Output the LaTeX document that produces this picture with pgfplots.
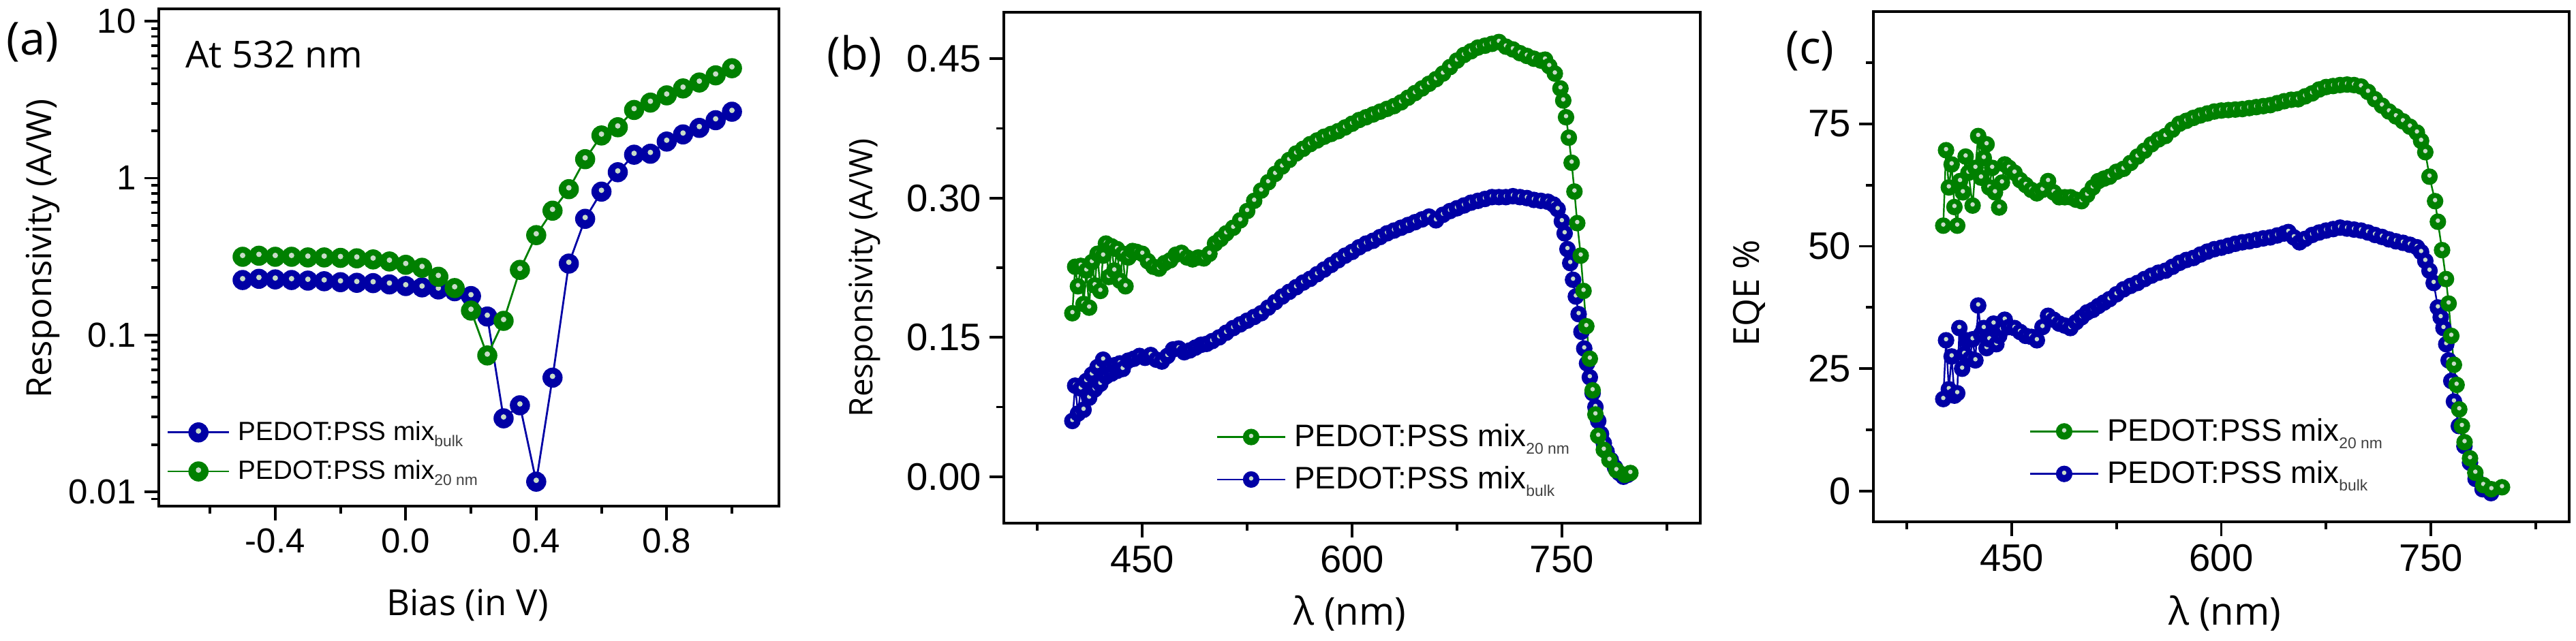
\documentclass[border=0pt]{standalone}
\usepackage{pgfplots}
\pgfplotsset{compat=1.18}
\usepackage{fontspec}
\setmainfont{Open Sans}
\newfontfamily\arial{Liberation Sans}
\definecolor{cblue}{RGB}{0,0,165}
\definecolor{cgreen}{RGB}{0,128,0}
\definecolor{hl}{RGB}{200,220,200}
\pgfdeclareplotmark{sun}{%
  \pgfpathcircle{\pgfpointorigin}{\pgfplotmarksize}%
  \pgfusepath{fill,stroke}%
  \begin{pgfscope}%
  \pgfsetfillcolor{hl}%
  \pgfpathcircle{\pgfpoint{0pt}{0.15\pgfplotmarksize}}{0.3\pgfplotmarksize}%
  \pgfusepath{fill}%
  \end{pgfscope}%
}
\newcommand{\sub}[1]{\raisebox{-0.45ex}{\fontsize{6.5}{7}\selectfont\color{darkgray}#1}}
\pgfplotsset{
  panel/.style={
    scale only axis, anchor=south west,
    axis line style={line width=1.1pt},
    tick align=outside, xtick pos=bottom, ytick pos=left,
    major tick length=2.1mm, minor tick length=1.1mm,
    every tick/.append style={line width=1.1pt, black},
    legend cell align=left,
  },
  lg/.style n args={3}{
    legend style={draw=none, fill=none, inner sep=0pt, outer sep=0pt,
      at={(axis description cs:#1,#2)}, anchor=west,
      font=\arial\fontsize{#3}{#3}\selectfont,
      nodes={inner sep=0pt}, row sep=2.4mm,
      /tikz/every odd column/.style={column sep=1.2mm}},
  },
}
\begin{document}
\begin{tikzpicture}
\path[use as bounding box] (0,0) rectangle (378mm,-94.1mm);
% ---------------- (a)
\begin{axis}[panel, at={(23.3mm,-74.3mm)}, width=91mm, height=73mm,
  ymode=log, xmin=-0.757, xmax=1.144, ymin=0.0081, ymax=12,
  xtick={-0.4,0,0.4,0.8}, xticklabels={-0.4,0.0,0.4,0.8},
  minor xtick={-0.6,-0.2,0.2,0.6,1.0},
  ytick={0.01,0.1,1,10}, yticklabels={0.01,0.1,1,10},
  minor ytick={0.009,0.02,0.03,0.04,0.05,0.06,0.07,0.08,0.09,0.2,0.3,0.4,0.5,0.6,0.7,0.8,0.9,2,3,4,5,6,7,8,9},
  ticklabel style={font=\arial\fontsize{14.5}{16}\selectfont},
  lg={0.013}{0.109}{11},
  legend image code/.code={\draw[mark repeat=2,mark phase=2] plot coordinates {(0mm,0mm) (4.5mm,0mm) (9mm,0mm)};},
]
\addplot[color=cblue, line width=0.8pt, mark=sun, mark size=3.8pt] table {
-0.50 0.224
-0.45 0.228
-0.40 0.226
-0.35 0.224
-0.30 0.222
-0.25 0.220
-0.20 0.217
-0.15 0.215
-0.10 0.214
-0.05 0.210
0.00 0.205
0.05 0.201
0.10 0.195
0.15 0.190
0.20 0.177
0.25 0.131
0.30 0.0294
0.35 0.0356
0.40 0.0116
0.45 0.0534
0.50 0.285
0.55 0.55
0.60 0.82
0.65 1.09
0.70 1.41
0.75 1.43
0.80 1.71
0.85 1.90
0.90 2.09
0.95 2.34
1.00 2.65
};
\addlegendentry{PEDOT:PSS mix\sub{bulk}}
\addplot[color=cgreen, line width=0.8pt, mark=sun, mark size=3.8pt] table {
-0.50 0.315
-0.45 0.320
-0.40 0.315
-0.35 0.315
-0.30 0.312
-0.25 0.312
-0.20 0.310
-0.15 0.308
-0.10 0.303
-0.05 0.294
0.00 0.280
0.05 0.268
0.10 0.235
0.15 0.199
0.20 0.143
0.25 0.074
0.30 0.123
0.35 0.26
0.40 0.433
0.45 0.62
0.50 0.85
0.55 1.32
0.60 1.87
0.65 2.11
0.70 2.72
0.75 3.03
0.80 3.37
0.85 3.73
0.90 4.07
0.95 4.52
1.00 5.02
};
\addlegendentry{PEDOT:PSS mix\sub{20 nm}}
\end{axis}
% ---------------- (b)
\begin{axis}[panel, reverse legend, at={(147.3mm,-76.8mm)}, width=102.2mm, height=75mm,
  xmin=351, xmax=849, ymin=-0.05, ymax=0.5,
  xtick={450,600,750}, xticklabels={450,600,750}, minor xtick={375,525,675,825},
  ytick={0,0.15,0.3,0.45}, yticklabels={0.00,0.15,0.30,0.45}, minor ytick={0.075,0.225,0.375},
  ticklabel style={font=\arial\fontsize{16}{18}\selectfont},
  lg={0.305}{0.127}{13},
  legend image code/.code={\draw[mark repeat=2,mark phase=2] plot coordinates {(0mm,0mm) (5mm,0mm) (10mm,0mm)};},
]
\addplot[color=cblue, line width=0.7pt, mark=sun, mark size=3.1pt] table {
400 0.060
402 0.098
404 0.068
406 0.095
408 0.072
410 0.103
412 0.085
414 0.110
416 0.094
418 0.118
420 0.100
422 0.126
424 0.108
426 0.118
428 0.111
430 0.120
432 0.114
434 0.122
436 0.116
440 0.125
444 0.127
448 0.130
452 0.128
456 0.131
460 0.126
464 0.124
468 0.130
472 0.137
476 0.138
480 0.134
484 0.136
488 0.139
492 0.142
496 0.143
500 0.146
505 0.150
510 0.155
515 0.160
520 0.164
525 0.168
530 0.172
535 0.176
540 0.182
545 0.188
550 0.194
555 0.199
560 0.204
565 0.209
570 0.213
575 0.218
580 0.223
585 0.228
590 0.233
595 0.238
600 0.242
605 0.247
610 0.251
615 0.254
620 0.258
625 0.262
630 0.265
635 0.268
640 0.271
645 0.274
650 0.277
655 0.280
660 0.276
665 0.282
670 0.286
675 0.289
680 0.292
685 0.295
690 0.297
695 0.299
700 0.301
705 0.301
710 0.301
715 0.302
720 0.301
725 0.300
730 0.298
735 0.297
740 0.296
744 0.293
747 0.288
750 0.275
752 0.262
754 0.245
756 0.230
758 0.212
760 0.194
762 0.175
764 0.156
766 0.138
768 0.122
770 0.107
772 0.090
774 0.075
776 0.060
778 0.046
780 0.036
782 0.027
785 0.018
788 0.010
791 0.004
794 0.000
797 0.002
};
\addlegendentry{PEDOT:PSS mix\sub{bulk}}
\addplot[color=cgreen, line width=0.7pt, mark=sun, mark size=3.1pt] table {
400 0.176
402 0.226
404 0.205
406 0.227
408 0.186
410 0.222
412 0.182
414 0.231
416 0.206
418 0.240
420 0.200
422 0.238
424 0.251
426 0.215
428 0.248
430 0.222
432 0.245
434 0.211
436 0.240
438 0.205
440 0.236
443 0.243
446 0.242
450 0.240
454 0.232
458 0.226
462 0.224
466 0.230
470 0.233
474 0.239
478 0.241
482 0.236
486 0.234
490 0.236
494 0.235
498 0.240
502 0.251
506 0.256
510 0.262
515 0.268
520 0.276
525 0.286
530 0.297
535 0.308
540 0.317
545 0.326
550 0.334
555 0.341
560 0.348
565 0.353
570 0.358
575 0.362
580 0.366
585 0.369
590 0.372
595 0.376
600 0.380
605 0.384
610 0.387
615 0.390
620 0.393
625 0.396
630 0.399
635 0.403
640 0.408
645 0.413
650 0.418
655 0.423
660 0.428
665 0.434
670 0.441
675 0.448
680 0.454
685 0.458
690 0.462
695 0.464
700 0.466
705 0.468
710 0.463
715 0.460
720 0.456
725 0.453
730 0.450
735 0.448
738 0.449
741 0.442
745 0.434
749 0.418
751 0.405
753 0.387
755 0.365
757 0.338
759 0.307
761 0.273
763.5 0.238
765.5 0.200
767.5 0.162
770 0.127
772 0.093
774 0.067
776 0.044
780 0.029
784 0.018
789 0.007
795 0.002
799 0.004
};
\addlegendentry{PEDOT:PSS mix\sub{20 nm}}
\end{axis}
% ---------------- (c)
\begin{axis}[panel, reverse legend, at={(274.9mm,-76.6mm)}, width=102.1mm, height=74.9mm,
  xmin=351, xmax=849, ymin=-6.25, ymax=97.9,
  xtick={450,600,750}, xticklabels={450,600,750}, minor xtick={375,525,675,825},
  ytick={0,25,50,75}, yticklabels={0,25,50,75}, minor ytick={12.5,37.5,62.5,87.5},
  ticklabel style={font=\arial\fontsize{16}{18}\selectfont},
  lg={0.224}{0.1355}{13},
  legend image code/.code={\draw[mark repeat=2,mark phase=2] plot coordinates {(0mm,0mm) (5mm,0mm) (10mm,0mm)};},
]
\addplot[color=cblue, line width=0.7pt, mark=sun, mark size=3.1pt] table {
401 18.8
403 30.8
405 20.8
407 27.5
409 19.5
411 20.0
412.5 33.3
414.5 25.0
416 28.0
418 30.8
420 27.0
422 31.0
424 26.7
426 37.9
428 32.0
430 33.3
432 29.2
434 31.0
437 34.2
439 30.0
441 31.7
443 33.0
445 35.0
448 33.5
452 33.3
456 32.5
460 31.7
464 31.5
468 30.8
472 33.5
476 35.8
480 35.0
484 34.2
488 33.8
492 33.3
496 34.5
500 35.5
504 36.5
508 37.0
512 37.8
516 38.5
520 39.2
525 40.2
530 41.2
535 41.9
540 42.5
545 43.3
550 44.0
555 44.6
560 45.0
565 45.8
570 46.6
575 47.2
580 47.6
585 48.3
590 48.9
595 49.4
600 49.7
605 50.1
610 50.5
615 50.8
620 51.0
625 51.3
630 51.6
635 51.8
640 52.2
645 52.6
648 52.9
652 51.8
656 50.8
660 51.5
665 52.3
670 52.8
675 53.2
680 53.5
685 53.8
690 53.6
695 53.4
700 53.2
705 52.8
710 52.3
715 51.9
720 51.4
725 51.0
730 50.7
735 50.3
740 49.8
743 48.8
746 47.0
749 45.0
752 42.5
755 37.5
757 35.5
759 33.3
761 30.0
762.7 26.7
764.6 22.5
766.5 18.3
770 13.3
774 9.2
778 5.8
782 2.5
787 0.4
793 -0.4
};
\addlegendentry{PEDOT:PSS mix\sub{bulk}}
\addplot[color=cgreen, line width=0.7pt, mark=sun, mark size=3.1pt] table {
401 54.2
403 69.6
405 62.0
407 66.7
409 58.0
411 54.2
413 63.3
415 61.0
417 68.3
419 65.0
422 58.3
424 66.0
426 72.5
428 64.0
430 68.0
432 70.8
434 62.0
436 66.0
438 61.0
441 57.9
443 63.0
445 66.7
448 66.0
452 65.0
456 63.5
460 62.5
464 61.5
468 60.8
472 61.5
476 63.3
480 61.0
484 60.0
488 60.0
492 60.0
496 59.5
500 59.2
504 60.5
508 62.0
512 63.3
516 63.8
520 64.2
525 65.2
530 65.8
535 67.0
540 68.3
545 69.5
550 70.8
555 71.8
560 72.5
565 73.8
570 75.0
575 75.6
580 76.2
585 76.7
590 77.1
595 77.5
600 77.7
605 77.8
610 77.9
615 78.0
620 78.2
625 78.4
630 78.6
635 78.8
640 79.2
645 79.6
650 79.9
655 80.0
660 80.6
665 81.2
670 82.0
675 82.5
680 82.7
685 82.9
690 83.0
695 82.9
700 82.6
705 81.5
710 80.0
715 78.7
720 77.5
725 76.5
730 75.5
735 74.4
740 73.2
743 71.5
746 69.2
749 64.2
753 59.2
755 55.0
758 49.2
760.8 43.3
762.7 38.3
764.6 31.7
766.5 25.8
768.4 21.7
770.3 16.7
772.2 13.3
774.1 10.0
778 6.7
781.8 3.75
787.5 1.25
793.3 0.4
800.9 0.8
};
\addlegendentry{PEDOT:PSS mix\sub{20 nm}}
\end{axis}
% ---------------- labels
\node[font=\fontsize{19}{22}\selectfont] at (4.8mm,-6.2mm) {(a)};
\node[font=\fontsize{19}{22}\selectfont] at (125.4mm,-8.2mm) {(b)};
\node[font=\fontsize{19}{22}\selectfont] at (265.6mm,-7.5mm) {(c)};
\node[font=\fontsize{15.5}{18}\selectfont] at (40.2mm,-8.0mm) {At 532 nm};
\node[font=\fontsize{14.5}{17}\selectfont, rotate=90] at (6.3mm,-36.5mm) {Responsivity (A/W)};
\node[font=\fontsize{13.5}{16}\selectfont, rotate=90] at (126.9mm,-40.8mm) {Responsivity (A/W)};
\node[font=\fontsize{15}{18}\selectfont, rotate=90] at (256.7mm,-43mm) {EQE \%};
\node[font=\fontsize{15}{18}\selectfont] at (68.6mm,-88.8mm) {Bias (in V)};
\node[font=\fontsize{16}{19}\selectfont] at (198.1mm,-90mm) {λ (nm)};
\node[font=\fontsize{16}{19}\selectfont] at (326.5mm,-90mm) {λ (nm)};
\end{tikzpicture}
\end{document}
